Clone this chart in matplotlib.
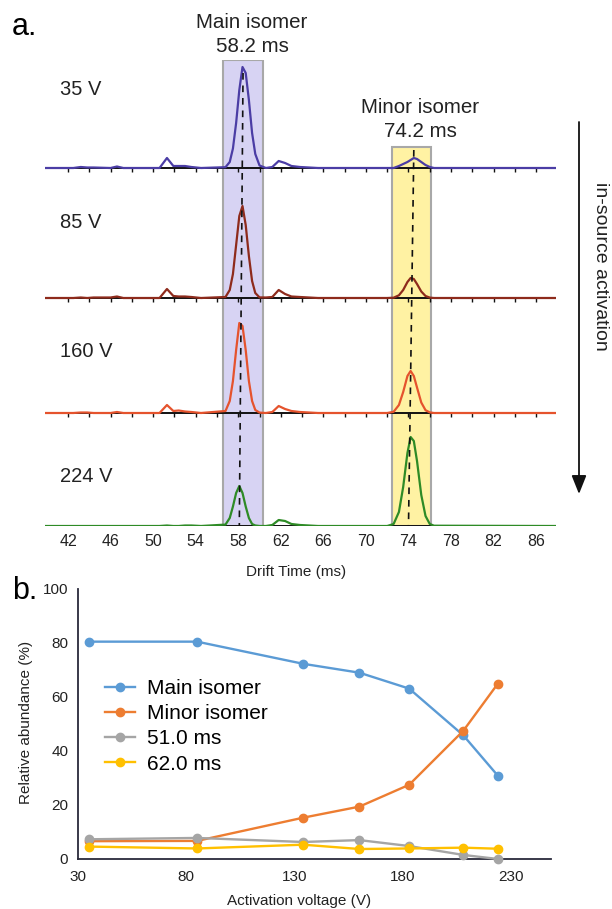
import matplotlib
matplotlib.use('Agg')
import matplotlib.pyplot as plt
from matplotlib.patches import Rectangle

plt.rcParams['font.family'] = ['Liberation Sans', 'DejaVu Sans']

# ---------------- Panel a data (drift time in ms, intensity in arbitrary units) ----------------
drift_t = [39.8, 42.5, 43.2, 43.8, 44.4, 46.0, 46.6, 47.2, 50.6, 51.3, 51.9, 52.4, 53.0, 53.6,
           54.5, 56.8, 57.2, 57.5, 57.8, 58.1, 58.4, 58.7, 59.0, 59.3, 59.6, 60.0, 60.6, 61.2,
           61.8, 62.4, 63.0, 63.8, 65.5, 72.0, 72.6, 73.1, 73.5, 73.9, 74.2, 74.5, 74.8, 75.2,
           75.6, 76.0, 76.4, 87.8]

trace_35V = [0, 0, 1, 0.5, 0.5, 0, 1.5, 0, 0, 10, 2, 2, 2, 1,
             0, 0.8, 6, 19.5, 45, 78, 101, 95, 68, 35, 14, 2.5, 0, 1,
             7, 5, 2, 1, 0, 0, 0, 2, 4, 6, 8, 10, 9, 6,
             3, 1, 0, 0]
trace_85V = [0, 0, 0.5, 0, 0.5, 0.5, 1.5, 0, 0, 9, 2, 1.5, 1.5, 1,
             0, 1, 8, 24, 53, 82, 92, 73, 42, 17, 5, 0.6, 0.5, 1,
             8, 4, 1.5, 1, 0, 0, 0.3, 2.7, 8, 16, 20, 19, 14, 6.5,
             2, 0.4, 0, 0]
trace_160V = [0, 0, 0.5, 0.5, 0, 0, 1, 0, 0, 8, 2, 2.5, 1.5, 1,
              0, 2, 12, 32, 63, 90, 87, 63, 32, 12, 3, 0.4, 0, 1,
              7, 4, 2, 1, 0, 0, 1.2, 8, 21, 37, 42, 37, 25.5, 10.5,
              2.8, 0.6, 0, 0]
trace_224V = [0, 0, 0, 0, 0, 0, 0, 0, 0, 0.5, 0, 0, 0.5, 0.5,
              0, 1.4, 8, 19.5, 33, 40, 33, 19.5, 8, 2, 0.5, 0, 0, 1,
              6, 5, 2, 1, 0, 0, 2, 14, 39, 73, 89, 85, 65, 31,
              10, 2, 0.3, 0]

trace_labels = ['35 V', '85 V', '160 V', '224 V']
traces = [trace_35V, trace_85V, trace_160V, trace_224V]
trace_colors = ['#4B3DA5', '#8E2B1C', '#E5532D', '#2E8B26']
trace_offsets = [358, 228, 113, 0]

drift_ticks = list(range(42, 87, 2))
drift_ticklabels = list(range(42, 87, 4))

# ---------------- Panel b data ----------------
voltage = [35, 85, 134, 160, 183, 208, 224]
main_isomer = [80.5, 80.5, 72.3, 69.0, 63.1, 45.8, 30.8]
minor_isomer = [6.6, 6.7, 15.3, 19.4, 27.5, 47.5, 65.0]
ms_51 = [7.3, 7.8, 6.3, 7.0, 4.8, 1.5, 0.0]
ms_62 = [4.6, 3.9, 5.3, 3.7, 3.9, 4.2, 3.8]

W, H = 612, 909
fig = plt.figure(figsize=(W / 100, H / 100), dpi=100)


def fx(x):
    return x / W


def fy(y):
    return 1 - y / H


# ================= Panel a =================
axa = fig.add_axes([fx(44.6), fy(526), (556.4 - 44.6) / W, 466 / H])
axa.set_xlim(39.8, 87.9)
axa.set_ylim(0, 466)
for s in axa.spines.values():
    s.set_visible(False)
axa.set_yticks([])
axa.set_xticks(drift_ticklabels)
axa.tick_params(axis='x', length=0, labelsize=11.5, pad=6, colors='#222222')

axa.add_patch(Rectangle((56.6, 0), 3.7, 466, facecolor='#D7D3F3', edgecolor='#A8A8A8',
                        lw=1.5, zorder=1))
axa.add_patch(Rectangle((72.45, 0), 3.65, 379, facecolor='#FFF2A3', edgecolor='#A8A8A8',
                        lw=1.5, zorder=1))

for tr, col, off in zip(traces, trace_colors, trace_offsets):
    axa.hlines(off, 39.8, 87.9, color='#111111', lw=1.4, zorder=3)
    axa.vlines(drift_ticks, off - 3.5, off, color='#111111', lw=1.0, zorder=3)
    axa.plot(drift_t, [v + off for v in tr], color=col, lw=1.6, zorder=4,
             solid_joinstyle='round')

axa.plot([58.45, 58.1], [453, 0], color='#111111', lw=1.2, dashes=(4, 3.5), zorder=5)
axa.plot([74.5, 74.0], [376, 0], color='#111111', lw=1.2, dashes=(4, 3.5), zorder=5)

# texts panel a
fig.text(fx(12), fy(35), 'a.', fontsize=22, va='baseline', ha='left')
label_y = [95, 228, 357, 482]
for lab, yy in zip(trace_labels, label_y):
    fig.text(fx(60), fy(yy), lab, fontsize=14.5, va='baseline', ha='left', color='#222222')

fig.text(fx(252), fy(28), 'Main isomer', fontsize=14.8, ha='center', va='baseline', color='#222222')
fig.text(fx(252), fy(52), '58.2 ms', fontsize=14.8, ha='center', va='baseline', color='#222222')
fig.text(fx(420), fy(113), 'Minor isomer', fontsize=14.8, ha='center', va='baseline', color='#222222')
fig.text(fx(420), fy(137), '74.2 ms', fontsize=14.8, ha='center', va='baseline', color='#222222')
fig.text(fx(296), fy(576), 'Drift Time (ms)', fontsize=11, ha='center', va='baseline', color='#222222')

axa.annotate('', xy=(fx(579), fy(494)), xytext=(fx(579), fy(122)), xycoords='figure fraction',
             textcoords='figure fraction',
             arrowprops=dict(arrowstyle='-|>,head_length=0.75,head_width=0.3', lw=1.3,
                             color='#111111', mutation_scale=15, shrinkA=0, shrinkB=0))
fig.text(fx(601), fy(266), 'in-source activation', fontsize=14, rotation=270,
         ha='center', va='center', color='#222222')

# ================= Panel b =================
axb = fig.add_axes([fx(78), fy(859), (551 - 78) / W, (859 - 589) / H])
axb.set_xlim(30, 248.5)
axb.set_ylim(0, 100)
axb.spines['top'].set_visible(False)
axb.spines['right'].set_visible(False)
for s in ('left', 'bottom'):
    axb.spines[s].set_color('#2a2a3a')
    axb.spines[s].set_linewidth(1.3)
axb.set_xticks([30, 80, 130, 180, 230])
axb.set_yticks([0, 20, 40, 60, 80, 100])
axb.tick_params(axis='x', length=0, labelsize=11, pad=8, colors='#222222')
axb.tick_params(axis='y', length=0, labelsize=11, pad=7, colors='#222222')

series = [(main_isomer, '#5B9BD5', 'Main isomer'),
          (minor_isomer, '#ED7D31', 'Minor isomer'),
          (ms_51, '#A5A5A5', '51.0 ms'),
          (ms_62, '#FFC000', '62.0 ms')]
for vals, col, lab in series:
    axb.plot(voltage, vals, '-o', color=col, lw=1.7, ms=6, label=lab, clip_on=False, zorder=3)

axb.legend(loc='upper left', bbox_to_anchor=(fx(105), fy(679)), bbox_transform=fig.transFigure,
           frameon=False, fontsize=15, handlelength=1.45, handletextpad=0.55, labelspacing=0.3,
           borderpad=0, borderaxespad=0)

fig.text(fx(12), fy(599), 'b.', fontsize=22, va='baseline', ha='left')
fig.text(fx(26), fy(722), 'Relative abundance (%)', fontsize=11, rotation=90,
         ha='center', va='center', color='#222222')
fig.text(fx(299), fy(905), 'Activation voltage (V)', fontsize=11, ha='center', va='baseline',
         color='#222222')

fig.savefig('out.png', dpi=100)
